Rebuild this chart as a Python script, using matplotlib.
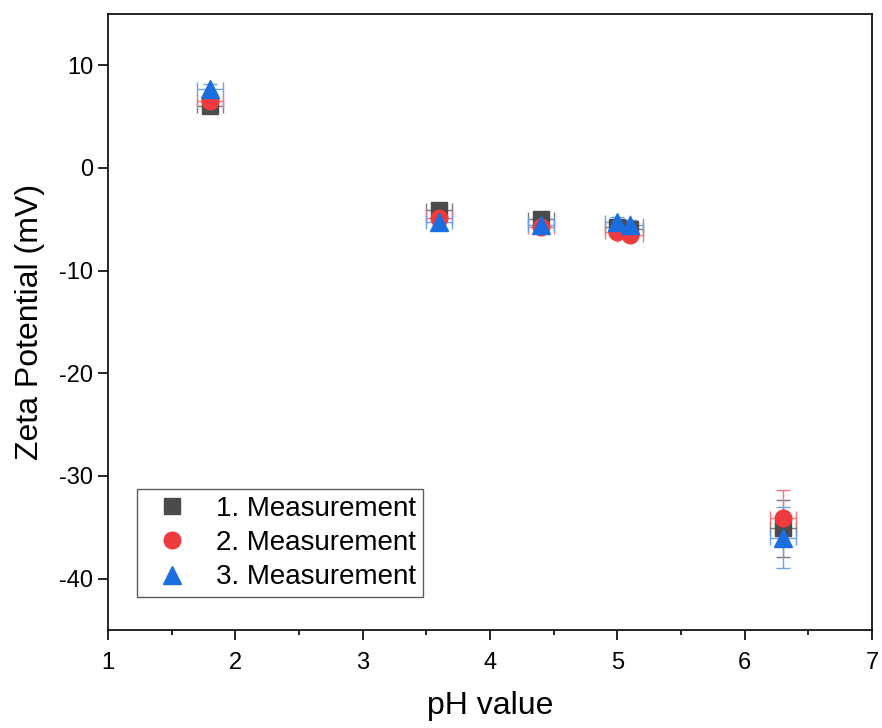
import matplotlib
matplotlib.use('Agg')
import matplotlib.pyplot as plt
from matplotlib.lines import Line2D
from matplotlib.ticker import MultipleLocator

plt.rcParams['font.family'] = ['Liberation Sans', 'DejaVu Sans']
plt.rcParams['axes.unicode_minus'] = False

# pH-Werte je Messung
ph = [1.8, 3.6, 4.4, 5.0, 5.1, 6.3]
ph_err = [0.1, 0.1, 0.1, 0.1, 0.1, 0.1]

# Zetapotential (mV)
zeta_1 = [6.0, -4.1, -5.0, -5.8, -6.0, -35.1]
zeta_1_err = [0.6, 0.6, 0.6, 0.5, 0.5, 2.8]
zeta_2 = [6.5, -4.9, -5.8, -6.2, -6.5, -34.1]
zeta_2_err = [0.5, 0.6, 0.5, 0.5, 0.5, 2.7]
zeta_3 = [7.7, -5.3, -5.6, -5.3, -5.6, -36.0]
zeta_3_err = [0.5, 0.5, 0.5, 0.5, 0.5, 3.0]

labels = ['1. Measurement', '2. Measurement', '3. Measurement']

fig = plt.figure(figsize=(8.82, 7.28), dpi=100)
ax = fig.add_axes([0.1224, 0.1346, 0.8663, 0.8464])

series = [
    (zeta_1, zeta_1_err, 's', '#4b4b4b', '#7a7a7a', 11),
    (zeta_2, zeta_2_err, 'o', '#ef3b3f', '#f07a7c', 12),
    (zeta_3, zeta_3_err, '^', '#1b6ee0', '#6fa1e8', 13),
]
handles = []
for (y, yerr, m, c, ec, ms), lab in zip(series, labels):
    ax.errorbar(ph, y, xerr=ph_err, yerr=yerr, fmt=m, color=c, ms=ms,
                ecolor=ec, elinewidth=1, capsize=5, capthick=1)
    handles.append(Line2D([], [], ls='none', marker=m, color=c, ms=ms, label=lab))

ax.set_xlim(1, 7)
ax.set_ylim(-45, 15)
ax.xaxis.set_major_locator(MultipleLocator(1))
ax.xaxis.set_minor_locator(MultipleLocator(0.5))
ax.yaxis.set_major_locator(MultipleLocator(10))
ax.tick_params(which='major', direction='out', length=7, width=1.2, labelsize=17)
ax.tick_params(axis='x', which='major', pad=9)
ax.tick_params(which='minor', direction='out', length=3.5, width=1.2)
for s in ax.spines.values():
    s.set_linewidth(1.2)

ax.set_xlabel('pH value', fontsize=23, labelpad=12)
ax.set_ylabel('Zeta Potential (mV)', fontsize=23, labelpad=10)

leg = ax.legend(handles=handles, loc='lower left', bbox_to_anchor=(0.038, 0.053),
                fontsize=20, frameon=True, fancybox=False, edgecolor='#333333',
                handletextpad=0.6, borderpad=0.25, labelspacing=0.3,
                borderaxespad=0)
leg.get_frame().set_linewidth(1)

fig.savefig('out.png', dpi=100)
